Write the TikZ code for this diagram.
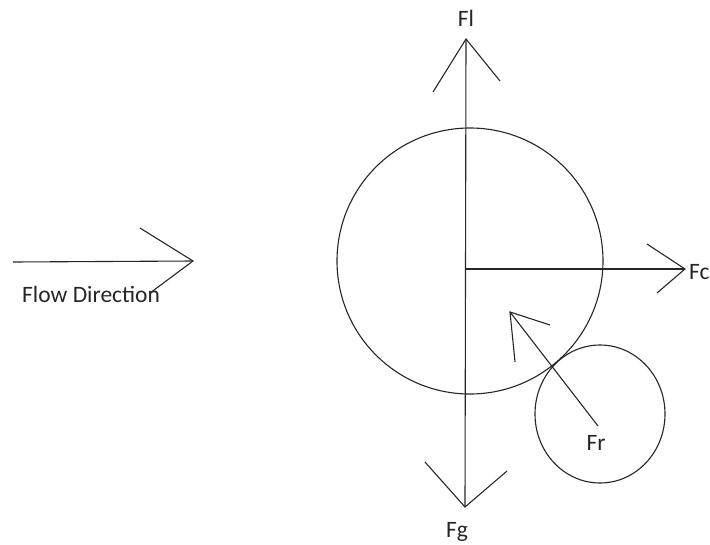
\documentclass[tikz,border=0pt]{standalone}
\usepackage{fontspec}
\setmainfont{Carlito}
\usetikzlibrary{shapes.geometric}
\begin{document}
\begin{tikzpicture}[x=1pt,y=-1pt,
  ln/.style={line width=1.1pt,draw=black!85},
  lbl/.style={inner sep=0pt,text=black!85,font=\fontsize{23.5}{28}\selectfont}]
\useasboundingbox (0,0) rectangle (710,544);
% big circle
\node[ln,circle,minimum size=266pt,inner sep=0pt] (big) at (470,261) {};
% small circle
\node[ln,ellipse,minimum width=130pt,minimum height=138pt,inner sep=0pt] (small) at (600,414) {};
% vertical axis
\coordinate (flTip) at (466,39);
\coordinate (fgTip) at (465,507);
\coordinate (flA) at (433,92);
\coordinate (flB) at (500,81);
\coordinate (fgA) at (425,462);
\coordinate (fgB) at (507,471);
\draw[ln] (flTip) -- (fgTip);
\draw[ln] (flA) -- (flTip) -- (flB);
\draw[ln] (fgA) -- (fgTip) -- (fgB);
% horizontal Fc
\coordinate (ctr) at (466,269);
\coordinate (fcTip) at (685,269);
\coordinate (fcA) at (647,244);
\coordinate (fcB) at (657,293);
\draw[ln] (ctr) -- (fcTip);
\draw[ln] (fcA) -- (fcTip) -- (fcB);
% Fr
\coordinate (frStart) at (598,426);
\coordinate (frTip) at (510,312);
\coordinate (frA) at (550,325);
\coordinate (frB) at (515,362);
\draw[ln] (frStart) -- (frTip);
\draw[ln] (frA) -- (frTip) -- (frB);
% flow direction
\coordinate (flowS) at (13,262);
\coordinate (flowT) at (193,261);
\coordinate (flowA) at (140,228);
\coordinate (flowB) at (150,293);
\draw[ln] (flowS) -- (flowT);
\draw[ln] (flowA) -- (flowT) -- (flowB);
% labels
\node[lbl] (tFl) at (466,18) {Fl};
\node[lbl] (tFg) at (457,532) {Fg};
\node[lbl,anchor=west] (tFc) at (689,272) {Fc};
\node[lbl] (tFr) at (596,443) {Fr};
\node[lbl,anchor=west] (tFlow) at (22,294) {Flow Direction};
\end{tikzpicture}
\end{document}
